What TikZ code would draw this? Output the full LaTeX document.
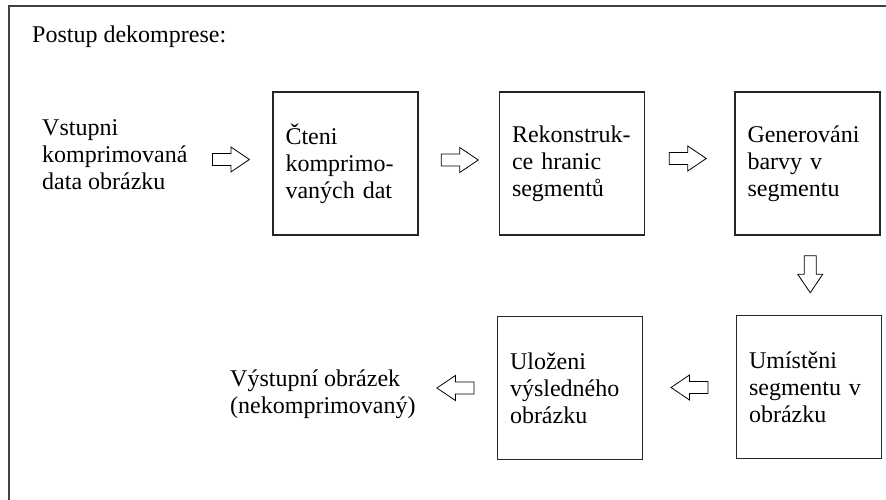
\documentclass[tikz,border=0pt]{standalone}
\usepackage{fontspec}
\setmainfont{Liberation Serif}
\usetikzlibrary{calc,positioning}
\tikzset{
  line join=miter,
  frame/.style={draw=black!75, line width=2pt},
  stepbox/.style={draw=black!85, line width=1.2pt, minimum width=145pt, minimum height=143pt,
    text width=120pt, inner xsep=12.5pt, align=left},
  plaintext/.style={inner sep=0pt, align=left},
  hollowarrow/.pic={
    \draw[line width=0.8pt] (-18.5,-6) -- (0,-6) -- (0,-12.5) -- (18.5,0)
      -- (0,12.5) -- (0,6) -- (-18.5,6) -- cycle;
  }
}
\begin{document}
\begin{tikzpicture}[x=1pt,y=-1pt,font=\fontsize{24pt}{27pt}\selectfont]
  \useasboundingbox (0,0) rectangle (886,500);
  \clip (0,0) rectangle (886,500);

  % frame, cut off at right and bottom
  \draw[frame] (9,6) rectangle (900,520);
  \node[anchor=base west, inner sep=0pt] (title) at (32,43) {Postup dekomprese:};

  % top row
  \node[plaintext, anchor=west] (vstup) at (42,155) {Vstupni\\komprimovaná\\data obrázku};
  \node[stepbox] (cteni) at (345.5,163.5) {Čteni\\komprimo-\\vaných dat};
  \node[stepbox] (rekon) at (572,163.5) {Rekonstruk-\\ce hranic\\segmentů};
  \node[stepbox] (gener) at (807.5,163.5) {Generováni\\barvy v\\segmentu};

  % bottom row
  \node[stepbox] (umist) at (809,387) {Umístěni\\segmentu v\\obrázku};
  \node[stepbox] (ulozeni) at (570,388) {Uloženi\\výsledného\\obrázku};
  \node[plaintext, anchor=west] (vystup) at (230,394) {Výstupní obrázek\\(nekomprimovaný)};

  % block arrows
  \pic at ($(cteni.west)+(-41.5,-4)$) {hollowarrow};
  \pic at ($(cteni.east)!.5!(rekon.west)+(1,-3.5)$) {hollowarrow};
  \pic at ($(rekon.east)!.5!(gener.west)+(-2,-5)$) {hollowarrow};
  \pic[rotate=-90] at ($(gener.south)!.5!(umist.north)+(2,-1)$) {hollowarrow};
  \pic[rotate=180] at ($(umist.west)!.5!(ulozeni.east)$) {hollowarrow};
  \pic[rotate=180] at ($(ulozeni.west)+(-41.5,0)$) {hollowarrow};
\end{tikzpicture}
\end{document}
